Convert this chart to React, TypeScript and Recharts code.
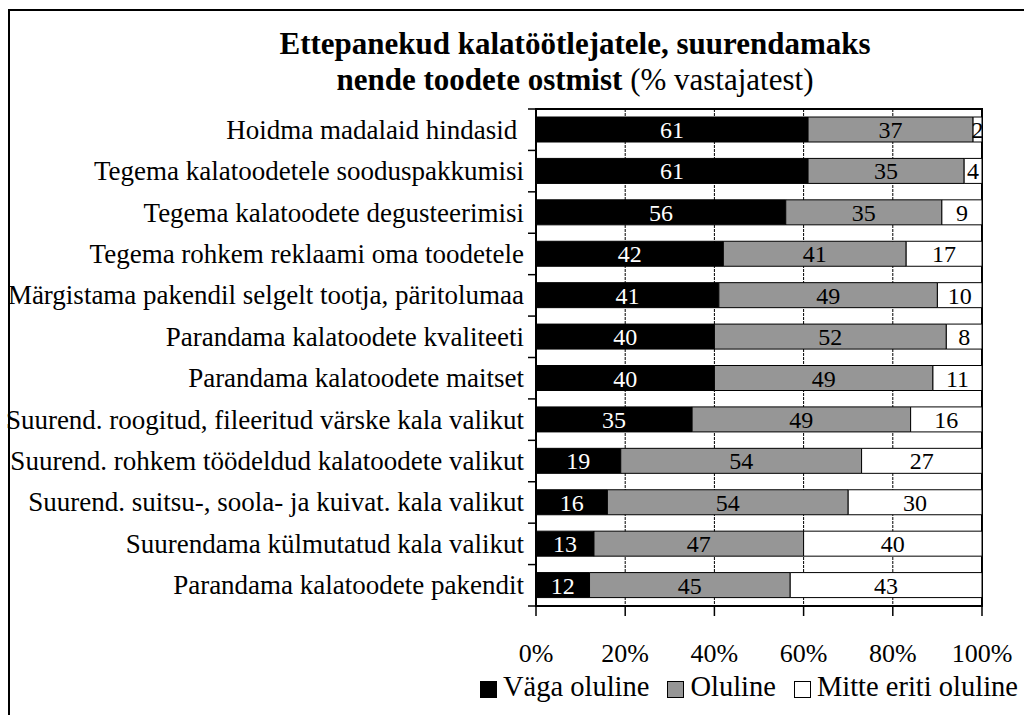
import React from "react";
import {
  BarChart,
  Bar,
  XAxis,
  YAxis,
  CartesianGrid,
  LabelList,
  Legend,
  ReferenceArea,
} from "recharts";

const categories = [
  "Hoidma madalaid hindasid\u00a0",
  "Tegema kalatoodetele sooduspakkumisi",
  "Tegema kalatoodete degusteerimisi",
  "Tegema rohkem reklaami oma toodetele",
  "Märgistama pakendil selgelt tootja, päritolumaa",
  "Parandama kalatoodete kvaliteeti",
  "Parandama kalatoodete maitset",
  "Suurend. roogitud, fileeritud värske kala valikut",
  "Suurend. rohkem töödeldud kalatoodete valikut",
  "Suurend. suitsu-, soola- ja kuivat. kala valikut",
  "Suurendama külmutatud kala valikut",
  "Parandama kalatoodete pakendit",
];

const vagaOluline = [61, 61, 56, 42, 41, 40, 40, 35, 19, 16, 13, 12];
const oluline = [37, 35, 35, 41, 49, 52, 49, 49, 54, 54, 47, 45];
const mitteEritiOluline = [2, 4, 9, 17, 10, 8, 11, 16, 27, 30, 40, 43];

const xTicks = [0, 20, 40, 60, 80, 100];
const seriesNames = ["Väga oluline", "Oluline", "Mitte eriti oluline"];
const seriesColors = ["#000000", "#969696", "#ffffff"];

const data = categories.map((c, i) => ({
  name: c,
  a: vagaOluline[i],
  b: oluline[i],
  c: mitteEritiOluline[i],
}));

const FONT = "'Liberation Serif', 'Times New Roman', serif";
const W = 1024;
const H = 715;
const PLOT_LEFT = 536;
const PLOT_RIGHT = 982;
const PLOT_TOP = 109;
const PLOT_BOTTOM = 606;
const X_AXIS_H = 60;
const BAND = (PLOT_BOTTOM - PLOT_TOP) / categories.length;

const YTick = (props: any) => {
  const { x, y, payload, index } = props;
  const last = index === categories.length - 1;
  return (
    <g>
      <line x1={PLOT_LEFT - 8} x2={PLOT_LEFT} y1={y - BAND / 2} y2={y - BAND / 2} stroke="#000" strokeWidth={1.5} />
      {last && (
        <line x1={PLOT_LEFT - 8} x2={PLOT_LEFT} y1={y + BAND / 2} y2={y + BAND / 2} stroke="#000" strokeWidth={1.5} />
      )}
      <text x={x} y={y} textAnchor="end" dominantBaseline="central" fontSize={27} fontFamily={FONT} fill="#000">
        {payload.value}
      </text>
    </g>
  );
};

const XTick = (props: any) => {
  const { x, y, payload } = props;
  return (
    <text x={x} y={y} textAnchor="middle" dominantBaseline="central" fontSize={26} fontFamily={FONT} fill="#000">
      {payload.value}%
    </text>
  );
};

const LegendContent = () => {
  return (
    <div style={{ display: "flex", alignItems: "center", fontFamily: FONT, fontSize: 28.5, color: "#000", whiteSpace: "nowrap" }}>
      {seriesNames.map((name, i) => (
        <div key={i} style={{ display: "flex", alignItems: "center", marginRight: i < 2 ? 18 : 0 }}>
          <span
            style={{
              display: "inline-block",
              width: 17,
              height: 17,
              background: seriesColors[i],
              border: "1.5px solid #000",
              boxSizing: "border-box",
              marginRight: 6,
              marginTop: 4,
            }}
          />
          <span>{name}</span>
        </div>
      ))}
    </div>
  );
};

const labelStyle = { fontSize: 24, fontFamily: FONT };

export default function App() {
  return (
    <div style={{ position: "absolute", left: 0, top: 0, width: W, height: H, background: "#fff", overflow: "hidden" }}>
      <div
        style={{
          position: "absolute",
          left: 8,
          top: 9,
          width: W,
          height: H,
          borderLeft: "2px solid #000",
          borderTop: "2px solid #000",
        }}
      />
      <div
        style={{
          position: "absolute",
          left: 130,
          width: 890,
          top: 26,
          textAlign: "center",
          fontFamily: FONT,
          fontSize: 31,
          lineHeight: "36px",
          color: "#000",
        }}
      >
        <div style={{ fontWeight: "bold" }}>Ettepanekud kalatöötlejatele, suurendamaks</div>
        <div>
          <span style={{ fontWeight: "bold" }}>nende toodete ostmist</span> (% vastajatest)
        </div>
      </div>
      <div style={{ position: "absolute", left: 0, top: 0 }}>
        <BarChart
          width={W}
          height={H}
          data={data}
          layout="vertical"
          margin={{ top: PLOT_TOP, right: W - PLOT_RIGHT, left: 0, bottom: H - PLOT_BOTTOM - X_AXIS_H }}
          barSize={25}
        >
          <CartesianGrid horizontal={false} vertical stroke="#000" strokeDasharray="3 1" />
          <XAxis
            type="number"
            domain={[0, 100]}
            ticks={xTicks}
            height={X_AXIS_H}
            tickSize={10}
            tickMargin={37}
            tick={<XTick />}
            axisLine={{ stroke: "#000", strokeWidth: 2 }}
            tickLine={{ stroke: "#000", strokeWidth: 1.5 }}
            interval={0}
          />
          <YAxis
            type="category"
            dataKey="name"
            width={PLOT_LEFT}
            tickSize={8}
            tickMargin={4}
            tickLine={false}
            tick={<YTick />}
            axisLine={{ stroke: "#000", strokeWidth: 2 }}
            interval={0}
          />
          <Legend
            verticalAlign="middle"
            layout="horizontal"
            content={<LegendContent />}
            wrapperStyle={{ left: 480, top: 671, width: 544 }}
          />
          <Bar dataKey="a" name={seriesNames[0]} stackId="s" fill={seriesColors[0]} stroke="#000" strokeWidth={1} isAnimationActive={false}>
            <LabelList dataKey="a" position="center" fill="#fff" style={labelStyle} />
          </Bar>
          <Bar dataKey="b" name={seriesNames[1]} stackId="s" fill={seriesColors[1]} stroke="#000" strokeWidth={1} isAnimationActive={false}>
            <LabelList dataKey="b" position="center" fill="#000" style={labelStyle} />
          </Bar>
          <Bar dataKey="c" name={seriesNames[2]} stackId="s" fill={seriesColors[2]} stroke="#000" strokeWidth={1} isAnimationActive={false}>
            <LabelList dataKey="c" position="center" fill="#000" style={labelStyle} />
          </Bar>
          <ReferenceArea x1={0} x2={100} fill="none" fillOpacity={0} stroke="#000" strokeWidth={2} />
        </BarChart>
      </div>
    </div>
  );
}
